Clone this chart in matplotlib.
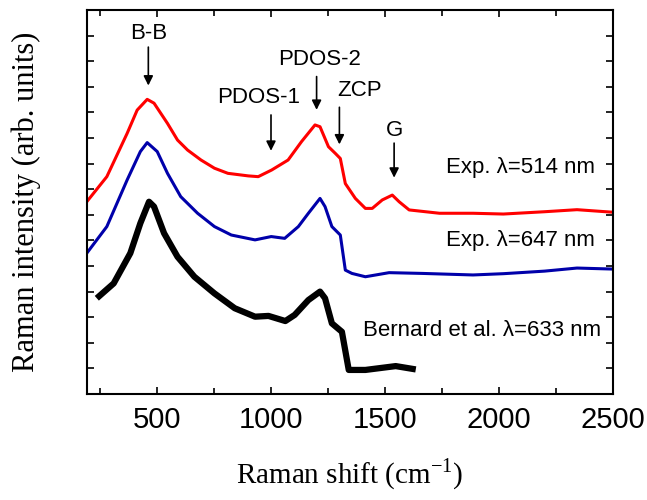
import matplotlib.pyplot as plt
from matplotlib.ticker import MultipleLocator

# Raman shift (cm-1) / intensity (offset, arb. units)
x_514 = [192, 280, 369, 413, 457, 487, 546, 590, 634, 693, 752, 811, 900, 944, 1003,
         1075, 1134, 1193, 1215, 1252, 1282, 1304, 1326, 1370, 1414, 1444, 1488, 1532,
         1562, 1606, 1739, 1886, 2019, 2200, 2342, 2500]
y_514 = [7.51, 8.49, 10.18, 11.09, 11.51, 11.36, 10.57, 9.92, 9.53, 9.14, 8.82, 8.62, 8.52, 8.49, 8.75,
         9.14, 9.86, 10.51, 10.44, 9.66, 9.4, 9.2, 8.22, 7.64, 7.25, 7.25, 7.58, 7.77,
         7.51, 7.19, 7.06, 7.06, 7.03, 7.12, 7.2, 7.1]

x_647 = [192, 280, 369, 427, 457, 501, 546, 604, 678, 752, 826, 930, 1001, 1060,
         1120, 1164, 1215, 1237, 1267, 1304, 1326, 1355, 1414, 1518, 1665, 1886,
         2020, 2200, 2342, 2500]
y_647 = [5.5, 6.54, 8.36, 9.47, 9.82, 9.47, 8.62, 7.71, 7.06, 6.54, 6.21, 6.02, 6.15, 6.08,
         6.54, 7.06, 7.64, 7.32, 6.54, 6.21, 4.84, 4.71, 4.58, 4.74, 4.71, 4.65,
         4.7, 4.8, 4.92, 4.88]

x_633 = [236, 310, 383, 427, 465, 487, 531, 590, 664, 752, 841, 930, 989, 1063,
         1104, 1164, 1215, 1237, 1267, 1311, 1341, 1414, 1547, 1635]
y_633 = [3.74, 4.32, 5.5, 6.67, 7.51, 7.32, 6.28, 5.36, 4.58, 3.93, 3.35, 3.02, 3.05, 2.85,
         3.09, 3.67, 4.0, 3.74, 2.76, 2.43, 0.94, 0.94, 1.09, 0.96]

# peak annotations: label, arrow x, arrow tail y, arrow head y, text position
peak_names = ['B-B', 'PDOS-1', 'PDOS-2', 'ZCP', 'G']
peak_x = [462, 1000, 1200, 1300, 1540]
arrow_top = [13.55, 10.9, 12.4, 11.2, 9.8]
arrow_tip = [12.05, 9.5, 11.1, 9.75, 8.45]
text_x = [462, 945, 1215, 1390, 1540]
text_y = [14.1, 11.6, 13.05, 11.85, 10.3]

curve_labels = ['Exp. λ=514 nm', 'Exp. λ=647 nm', 'Bernard et al. λ=633 nm']
curve_label_x = [2420, 2420, 2450]
curve_label_y = [8.85, 6.0, 2.5]

plt.rcParams['font.family'] = ['Liberation Sans', 'DejaVu Sans']

fig = plt.figure(figsize=(6.47, 5.0), dpi=100)
ax = fig.add_axes([87 / 647, 1 - 394 / 500, 526 / 647, 384 / 500])

ax.plot(x_514, y_514, color='#ff0000', linewidth=2.2)
ax.plot(x_647, y_647, color='#0000aa', linewidth=2.2)
ax.plot(x_633, y_633, color='black', linewidth=4.5, solid_capstyle='butt')

for name, px, ya, yb, tx, ty in zip(peak_names, peak_x, arrow_top, arrow_tip, text_x, text_y):
    ax.annotate('', xy=(px, yb), xytext=(px, ya),
                arrowprops=dict(arrowstyle='-|>', color='black', lw=1.2,
                                mutation_scale=14, shrinkA=0, shrinkB=0))
    ax.text(tx, ty, name, ha='center', va='center', fontsize=16)

for lab, lx, ly in zip(curve_labels, curve_label_x, curve_label_y):
    ax.text(lx, ly, lab, ha='right', va='center', fontsize=16)

ax.set_xlim(193, 2500)
ax.set_ylim(0, 15)
ax.xaxis.set_major_locator(MultipleLocator(500))
ax.xaxis.set_minor_locator(MultipleLocator(250))
ax.yaxis.set_major_locator(MultipleLocator(1))
ax.set_yticklabels([])
ax.tick_params(which='both', direction='in', top=True, right=True, width=1.2)
ax.tick_params(which='major', length=5, labelsize=21, pad=9)
ax.tick_params(which='minor', length=4)
for s in ax.spines.values():
    s.set_linewidth(1.5)

ax.set_xlabel('Raman shift (cm$^{\\mathregular{-1}}$)', family='Liberation Serif',
              fontsize=21, labelpad=16)
ax.set_ylabel('Raman intensity (arb. units)', family='Liberation Serif',
              fontsize=22, labelpad=24)

fig.savefig('out.png', dpi=100)
